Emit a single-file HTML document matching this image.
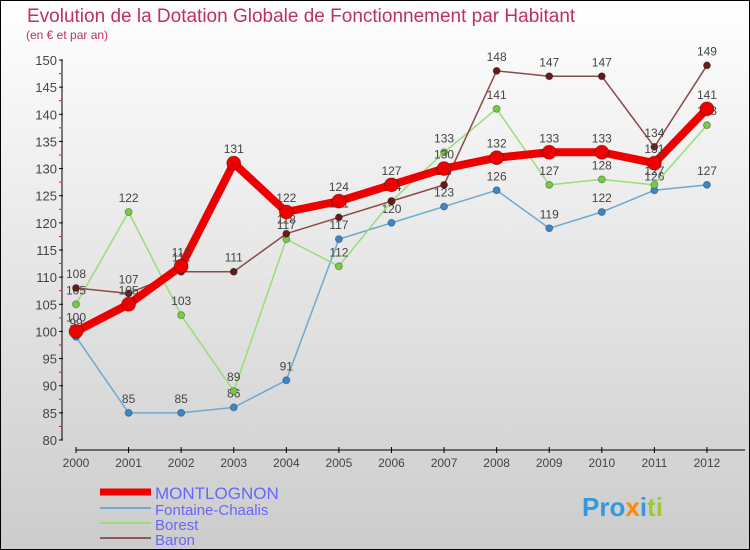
<!DOCTYPE html>
<html><head><meta charset="utf-8"><style>
body{margin:0}
#c{width:750px;height:550px;position:relative;overflow:hidden;background:linear-gradient(#ffffff,#f2f2f2 25%,#cccccc);box-sizing:border-box;border:1px solid #000;font-family:"Liberation Sans",sans-serif}
</style></head><body>
<div id="c">
<svg id="s" width="750" height="550" style="position:absolute;left:-1px;top:-1px">
<text x="27" y="22" font-size="19" fill="#c0305a">Evolution de la Dotation Globale de Fonctionnement par Habitant</text>
<text x="26" y="39" font-size="12" fill="#c0305a">(en € et par an)</text>
<g id="axes"></g><g id="series"></g>
<g>
<line x1="100" y1="492" x2="151" y2="492" stroke="#ee0000" stroke-width="7"/>
<text x="155" y="499" font-size="17" fill="#6666ff">MONTLOGNON</text>
<line x1="100" y1="508" x2="151" y2="508" stroke="#6fa8d0" stroke-width="2"/>
<text x="155" y="515" font-size="15" fill="#6666ff">Fontaine-Chaalis</text>
<line x1="100" y1="523" x2="151" y2="523" stroke="#99dd77" stroke-width="2"/>
<text x="155" y="530" font-size="15" fill="#6666ff">Borest</text>
<line x1="100" y1="538" x2="151" y2="538" stroke="#8a5a5a" stroke-width="2"/>
<text x="155" y="545" font-size="15" fill="#6666ff">Baron</text>
</g>
<g><text x="582" y="516" font-size="26" font-weight="bold"><tspan fill="#3399dd">Pro</tspan><tspan fill="#ff8800">x</tspan><tspan fill="#3399dd">i</tspan><tspan fill="#99cc33">ti</tspan></text></g>
</svg>
</div>
<script>
const years=[2000,2001,2002,2003,2004,2005,2006,2007,2008,2009,2010,2011,2012];
const yTicks=[80,85,90,95,100,105,110,115,120,125,130,135,140,145,150];
const montlognon=[100,105,112,131,122,124,127,130,132,133,133,131,141];
const fontaine=[99,85,85,86,91,117,120,123,126,119,122,126,127];
const borest=[105,122,103,89,117,112,124,133,141,127,128,127,138];
const baron=[108,107,111,111,118,121,124,127,148,147,147,134,149];
const NS="http://www.w3.org/2000/svg";
const X=i=>76+i*52.58, Y=v=>440-(v-80)*380/70;
function mk(p,t,a){const e=document.createElementNS(NS,t);for(const k in a)e.setAttribute(k,a[k]);p.appendChild(e);return e;}
const ax=document.getElementById('axes'), sg=document.getElementById('series');
let e=mk(ax,'line',{x1:62,y1:Y(150),x2:62,y2:440,stroke:'#000'});

e=mk(ax,'line',{x1:76,y1:450,x2:745,y2:450,stroke:'#000'});

yTicks.forEach(v=>{mk(ax,'line',{x1:59,y1:Y(v),x2:63,y2:Y(v),stroke:'#000'});
 if(v<150)mk(ax,'line',{x1:59,y1:Y(v+2.5),x2:61,y2:Y(v+2.5),stroke:'#f00'});
 const t=mk(ax,'text',{x:57,y:Y(v)+5,'font-size':13,fill:'#444','text-anchor':'end'});t.textContent=v;
 });
years.forEach((y,i)=>{mk(ax,'line',{x1:X(i),y1:447,x2:X(i),y2:453,stroke:'#000'});
 const t=mk(ax,'text',{x:X(i),y:467,'font-size':12,fill:'#444','text-anchor':'middle'});t.textContent=y;
 });
function draw(d,name,col,w,r,dot){
 const g=mk(sg,'g',{});
 const l=mk(g,'polyline',{points:d.map((v,i)=>X(i)+','+Y(v)).join(' '),fill:'none',stroke:col,'stroke-width':w,'stroke-linejoin':'round'});
 
 d.forEach((v,i)=>{const c=mk(g,'circle',{cx:X(i),cy:Y(v),r:r,fill:dot,stroke:'rgba(0,0,0,0.3)','stroke-width':1});
  
  const t=mk(g,'text',{x:X(i),y:Y(v)-10,'font-size':12,fill:'#444','text-anchor':'middle'});t.textContent=v;
  });
}
draw(fontaine,'fontaine-chaalis','#6fa8d0',1.5,3.5,'#3a88c8');
draw(borest,'borest','#99dd77',1.5,3.5,'#77cc44');
draw(baron,'baron','#8a4a4a',1.5,3.5,'#661a1a');
draw(montlognon,'montlognon','#ee0000',8,7,'#ee0000');
</script>
</body></html>
